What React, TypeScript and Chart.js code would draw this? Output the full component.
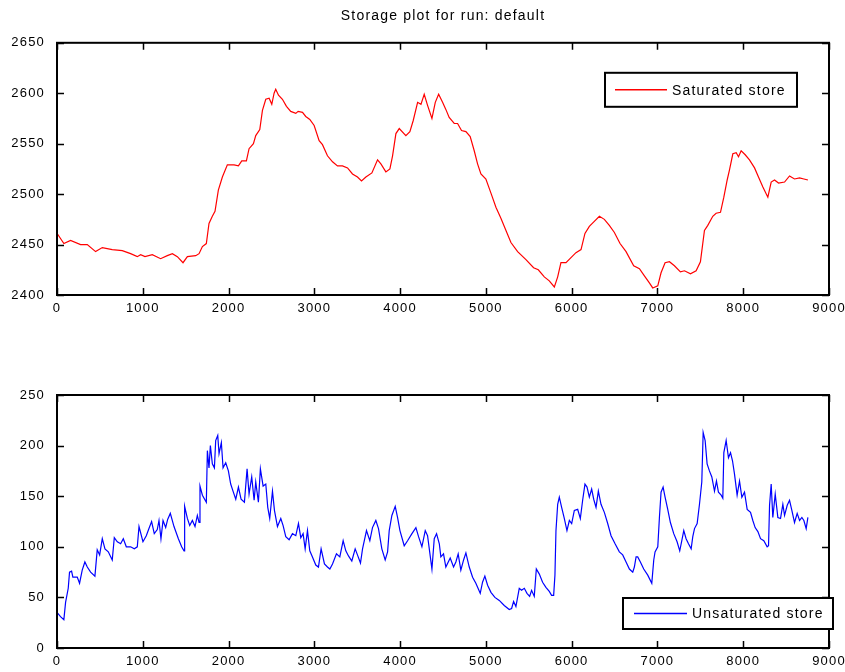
import React, { useEffect, useRef } from "react";
import { Chart, registerables } from "chart.js";

Chart.register(...registerables);

const TITLE = "Storage plot for run: default";
const SAT_LABEL = "Saturated store";
const UNSAT_LABEL = "Unsaturated store";

const X_MIN = 0;
const X_MAX = 9000;
const X_STEP = 1000;
const SAT_Y_MIN = 2400;
const SAT_Y_MAX = 2650;
const UNSAT_Y_MIN = 0;
const UNSAT_Y_MAX = 250;
const Y_STEP = 50;

const SAT_X = [
  2, 80, 158, 275, 353, 450, 528, 644, 761, 858, 936, 975, 1026, 1111, 1208, 1286, 1345, 1403, 1469, 1520,
  1617, 1656, 1695, 1741, 1772, 1811, 1842, 1881, 1928, 1986, 2064, 2115, 2154, 2208, 2239, 2290, 2317, 2364,
  2395, 2434, 2473, 2504, 2531, 2550, 2582, 2628, 2675, 2725, 2784, 2811, 2862, 2900, 2947, 2998, 3056, 3095,
  3153, 3212, 3270, 3328, 3387, 3445, 3503, 3550, 3601, 3671, 3737, 3776, 3834, 3881, 3912, 3951, 3990, 4067,
  4114, 4153, 4204, 4243, 4281, 4320, 4371, 4410, 4449, 4495, 4533, 4572, 4631, 4670, 4716, 4767, 4817, 4864,
  4903, 4942, 5000, 5059, 5117, 5175, 5234, 5292, 5370, 5467, 5556, 5611, 5681, 5739, 5798, 5837, 5875, 5934,
  5992, 6050, 6109, 6155, 6206, 6264, 6323, 6381, 6439, 6498, 6564, 6634, 6723, 6790, 6848, 6906, 6945, 7004,
  7042, 7089, 7140, 7198, 7268, 7315, 7385, 7451, 7501, 7548, 7587, 7645, 7684, 7735, 7774, 7813, 7840, 7879,
  7918, 7945, 7976, 8023, 8073, 8132, 8178, 8229, 8287, 8326, 8365, 8412, 8482, 8540, 8598, 8657, 8707, 8754,
];
const SAT_Y = [
  2461, 2451, 2454, 2450, 2450, 2443, 2447, 2445, 2444, 2441, 2438, 2440, 2438, 2440, 2436, 2439, 2441, 2438, 2432, 2438,
  2439, 2441, 2448, 2451, 2471, 2478, 2483, 2504, 2517, 2529, 2529, 2528, 2533, 2533, 2545, 2550, 2558, 2564,
  2583, 2594, 2595, 2589, 2600, 2604, 2598, 2594, 2587, 2582, 2580, 2582, 2581, 2577, 2574, 2568, 2553, 2549,
  2538, 2532, 2528, 2528, 2526, 2520, 2517, 2513, 2517, 2521, 2534, 2530, 2522, 2525, 2538, 2560, 2565, 2558,
  2562, 2573, 2591, 2589, 2599, 2588, 2575, 2591, 2599, 2591, 2584, 2576, 2570, 2570, 2563, 2562, 2557, 2543,
  2530, 2520, 2515, 2501, 2487, 2476, 2464, 2452, 2443, 2435, 2427, 2425, 2418, 2414, 2408, 2418, 2432, 2432,
  2437, 2442, 2445, 2461, 2468, 2473, 2478, 2475, 2469, 2462, 2451, 2443, 2429, 2426, 2419, 2412, 2407, 2409,
  2422, 2432, 2433, 2429, 2423, 2424, 2421, 2424, 2433, 2464, 2469, 2478, 2481, 2482, 2497, 2514, 2524, 2540,
  2541, 2537, 2543, 2539, 2534, 2526, 2517, 2507, 2497, 2512, 2514, 2511, 2512, 2518, 2515, 2516, 2515, 2514,
];

const UNSAT_X = [
  2, 41, 80, 100, 131, 146, 170, 185, 216, 236, 263, 294, 325, 353, 392, 442, 469, 497, 528, 559, 598, 644, 668,
  703, 742, 773, 808, 858, 901, 936, 956, 1002, 1041, 1072, 1103, 1134, 1169, 1189, 1212, 1236, 1267, 1290,
  1321, 1364, 1415, 1453, 1481, 1488, 1520, 1547, 1578, 1609, 1636, 1656, 1667, 1695, 1741, 1753, 1772, 1788,
  1811, 1835, 1850, 1874, 1889, 1916, 1936, 1967, 1998, 2025, 2052, 2084, 2115, 2146, 2185, 2216, 2239, 2270,
  2298, 2317, 2348, 2371, 2403, 2434, 2457, 2480, 2512, 2535, 2570, 2609, 2636, 2667, 2706, 2745, 2784, 2815,
  2842, 2869, 2893, 2920, 2947, 2978, 3017, 3048, 3079, 3118, 3153, 3181, 3212, 3258, 3297, 3336, 3367, 3398,
  3437, 3476, 3507, 3538, 3562, 3608, 3647, 3678, 3717, 3748, 3787, 3826, 3854, 3873, 3904, 3943, 3970, 3998,
  4048, 4087, 4138, 4184, 4215, 4254, 4293, 4320, 4371, 4398, 4425, 4457, 4475, 4506, 4533, 4584, 4623, 4650,
  4677, 4708, 4740, 4767, 4806, 4845, 4883, 4934, 4961, 4988, 5020, 5059, 5105, 5156, 5214, 5272, 5300, 5323,
  5350, 5389, 5416, 5448, 5479, 5510, 5533, 5564, 5588, 5623, 5661, 5700, 5739, 5766, 5790, 5805, 5817, 5837,
  5856, 5883, 5914, 5945, 5973, 6000, 6031, 6070, 6101, 6128, 6155, 6179, 6206, 6233, 6257, 6284, 6311, 6342,
  6381, 6420, 6459, 6506, 6556, 6595, 6634, 6673, 6712, 6731, 6751, 6770, 6801, 6840, 6887, 6934, 6957, 6972,
  7004, 7023, 7042, 7066, 7089, 7120, 7151, 7190, 7229, 7260, 7284, 7307, 7334, 7362, 7393, 7412, 7432, 7463,
  7490, 7517, 7533, 7556, 7579, 7606, 7634, 7665, 7688, 7711, 7743, 7762, 7774, 7801, 7828, 7852, 7875, 7898,
  7929, 7957, 7984, 8015, 8046, 8085, 8112, 8139, 8171, 8202, 8240, 8279, 8295, 8307, 8326, 8345, 8373, 8404,
  8435, 8462, 8482, 8513, 8540, 8567, 8598, 8629, 8657, 8684, 8707, 8734, 8754,
];
const UNSAT_Y = [
  35, 31, 28, 45, 59, 75, 76, 70, 70, 70, 64, 77, 85, 80, 75, 71, 97, 92, 108, 98, 95, 87, 109,
  105, 103, 108, 100, 100, 98, 100, 120, 105, 111, 118, 125, 113, 117, 126, 108, 126, 119, 127,
  133, 120, 108, 100, 96, 140, 128, 121, 126, 120, 131, 124, 160, 151, 144, 195, 178, 200,
  182, 178, 205, 210, 192, 203, 178, 183, 175, 162, 155, 147, 159, 147, 144, 177, 152, 169,
  146, 164, 144, 177, 160, 162, 139, 128, 155, 136, 120, 128, 121, 110, 107, 113, 111, 123,
  109, 113, 98, 116, 96, 90, 82, 80, 98, 83, 80, 78, 83, 93, 90, 106, 96, 91,
  86, 98, 91, 84, 98, 116, 106, 119, 126, 118, 98, 87, 95, 116, 131, 140, 129, 116,
  101, 106, 113, 119, 110, 100, 116, 111, 78, 108, 113, 103, 90, 93, 80, 89, 80, 85,
  93, 77, 87, 94, 80, 70, 64, 54, 65, 71, 62, 55, 50, 47, 42, 38, 39, 46,
  41, 59, 57, 59, 54, 51, 57, 51, 78, 73, 65, 60, 56, 52, 52, 72, 116, 142,
  149, 139, 128, 116, 126, 123, 136, 137, 128, 146, 162, 159, 149, 157, 147, 139, 155, 142,
  134, 123, 111, 103, 95, 92, 85, 78, 75, 80, 90, 90, 85, 78, 72, 64, 87, 95,
  100, 129, 154, 159, 149, 137, 124, 113, 105, 96, 106, 116, 108, 103, 98, 110, 118, 123,
  142, 164, 213, 205, 182, 175, 169, 155, 165, 154, 151, 148, 193, 205, 188, 193, 185, 172,
  151, 165, 149, 154, 137, 134, 126, 119, 115, 108, 106, 100, 101, 141, 162, 129, 152, 129,
  128, 142, 131, 141, 146, 136, 124, 133, 126, 129, 126, 118, 129,
];

const FONT = "'Liberation Sans', Arial, sans-serif";
const FONT_SIZE = 13;
const SPACING = "1.2px";

const spacingPlugin = {
  id: "mlSpacing",
  beforeUpdate(chart: any) { chart.ctx.letterSpacing = SPACING; },
  beforeLayout(chart: any) { chart.ctx.letterSpacing = SPACING; },
  beforeDraw(chart: any) { chart.ctx.letterSpacing = SPACING; },
};

const axesBoxPlugin = {
  id: "mlAxesBox",
  afterDatasetsDraw(chart: any) {
    const { ctx, chartArea: a, scales } = chart;
    const xs = scales.x;
    const ys = scales.y;
    const L = 7;
    ctx.save();
    ctx.strokeStyle = "#000";
    ctx.lineWidth = 1.5;
    ctx.beginPath();
    xs.ticks.forEach((t: any) => {
      const px = Math.round(xs.getPixelForValue(t.value)) + 0.5;
      ctx.moveTo(px, a.bottom);
      ctx.lineTo(px, a.bottom - L);
      ctx.moveTo(px, a.top);
      ctx.lineTo(px, a.top + L);
    });
    ys.ticks.forEach((t: any) => {
      const py = Math.round(ys.getPixelForValue(t.value)) + 0.5;
      ctx.moveTo(a.left, py);
      ctx.lineTo(a.left + L, py);
      ctx.moveTo(a.right, py);
      ctx.lineTo(a.right - L, py);
    });
    ctx.stroke();
    ctx.lineWidth = 2;
    ctx.strokeRect(a.left, a.top, a.right - a.left, a.bottom - a.top);
    ctx.restore();
  },
};

const mlLegendPlugin = {
  id: "mlLegend",
  afterDraw(chart: any, _args: any, opts: any) {
    const { ctx, chartArea: a } = chart;
    const ds = chart.data.datasets[0];
    const left = a.right + opts.dxRight;
    const top = opts.fromBottom ? a.bottom + opts.dy : a.top + opts.dy;
    ctx.save();
    ctx.letterSpacing = SPACING;
    ctx.fillStyle = "#fff";
    ctx.fillRect(left, top, opts.width, opts.height);
    ctx.strokeStyle = "#000";
    ctx.lineWidth = 2;
    ctx.strokeRect(left, top, opts.width, opts.height);
    const cy = top + opts.height / 2;
    ctx.strokeStyle = ds.borderColor;
    ctx.lineWidth = 1.5;
    ctx.beginPath();
    ctx.moveTo(left + opts.lineFrom, cy);
    ctx.lineTo(left + opts.lineTo, cy);
    ctx.stroke();
    ctx.fillStyle = "#000";
    ctx.font = `${FONT_SIZE + 1}px ${FONT}`;
    ctx.textBaseline = "middle";
    ctx.textAlign = "left";
    ctx.fillText(ds.label, left + opts.textFrom, cy + 1);
    ctx.restore();
  },
};

const plainTick = (v: any) => String(v);

function makeConfig(
  label: string,
  color: string,
  xs: number[],
  ys: number[],
  yMin: number,
  yMax: number,
  withTitle: boolean,
  padTop: number,
  xAxisHeight: number,
  legend: any
): any {
  return {
    type: "line",
    data: {
      datasets: [
        {
          label,
          data: xs.map((x, i) => ({ x, y: ys[i] })),
          borderColor: color,
          backgroundColor: color,
          borderWidth: 1.2,
          pointRadius: 0,
          tension: 0,
          fill: false,
        },
      ],
    },
    options: {
      animation: false,
      responsive: false,
      maintainAspectRatio: false,
      layout: { padding: { top: padTop, right: 16, bottom: 0, left: 0 } },
      plugins: {
        legend: { display: false },
        tooltip: { enabled: false },
        title: {
          display: withTitle,
          text: TITLE,
          fullSize: false,
          color: "#000",
          font: { family: FONT, size: FONT_SIZE + 1, weight: "normal", lineHeight: 1.2 },
          padding: { top: 8, bottom: 18 },
        },
        mlLegend: legend,
      },
      scales: {
        x: {
          type: "linear",
          min: X_MIN,
          max: X_MAX,
          grid: { display: false, drawTicks: false },
          border: { display: false },
          ticks: {
            stepSize: X_STEP,
            color: "#000",
            padding: 6,
            maxRotation: 0,
            autoSkip: false,
            callback: plainTick,
            font: { family: FONT, size: FONT_SIZE },
          },
          afterFit: (s: any) => {
            s.height = xAxisHeight;
            s.paddingRight = 0;
            s.paddingLeft = 0;
          },
        },
        y: {
          type: "linear",
          min: yMin,
          max: yMax,
          grid: { display: false, drawTicks: false },
          border: { display: false },
          ticks: {
            stepSize: Y_STEP,
            color: "#000",
            padding: 12,
            autoSkip: false,
            callback: plainTick,
            font: { family: FONT, size: FONT_SIZE },
          },
          afterFit: (s: any) => {
            s.width = 57;
            s.paddingTop = 0;
            s.paddingBottom = 0;
          },
        },
      },
    },
    plugins: [spacingPlugin, axesBoxPlugin, mlLegendPlugin],
  };
}

export default function App() {
  const topRef = useRef<HTMLCanvasElement | null>(null);
  const botRef = useRef<HTMLCanvasElement | null>(null);

  useEffect(() => {
    const c1 = new Chart(
      topRef.current as HTMLCanvasElement,
      makeConfig(SAT_LABEL, "#ff0000", SAT_X, SAT_Y, SAT_Y_MIN, SAT_Y_MAX, true, 0, 25, {
        dxRight: -224,
        dy: 30,
        fromBottom: false,
        width: 192,
        height: 34,
        lineFrom: 10,
        lineTo: 62,
        textFrom: 67,
      })
    );
    const c2 = new Chart(
      botRef.current as HTMLCanvasElement,
      makeConfig(UNSAT_LABEL, "#0000ff", UNSAT_X, UNSAT_Y, UNSAT_Y_MIN, UNSAT_Y_MAX, false, 75, 24, {
        dxRight: -206,
        dy: -50,
        fromBottom: true,
        width: 210,
        height: 31,
        lineFrom: 11,
        lineTo: 64,
        textFrom: 69,
      })
    );
    return () => {
      c1.destroy();
      c2.destroy();
    };
  }, []);

  return (
    <div style={{ position: "absolute", left: 0, top: 0, width: 845, height: 672, background: "#fff" }}>
      <canvas ref={topRef} width={845} height={320} style={{ position: "absolute", left: 0, top: 0 }} />
      <canvas ref={botRef} width={845} height={352} style={{ position: "absolute", left: 0, top: 320 }} />
    </div>
  );
}
